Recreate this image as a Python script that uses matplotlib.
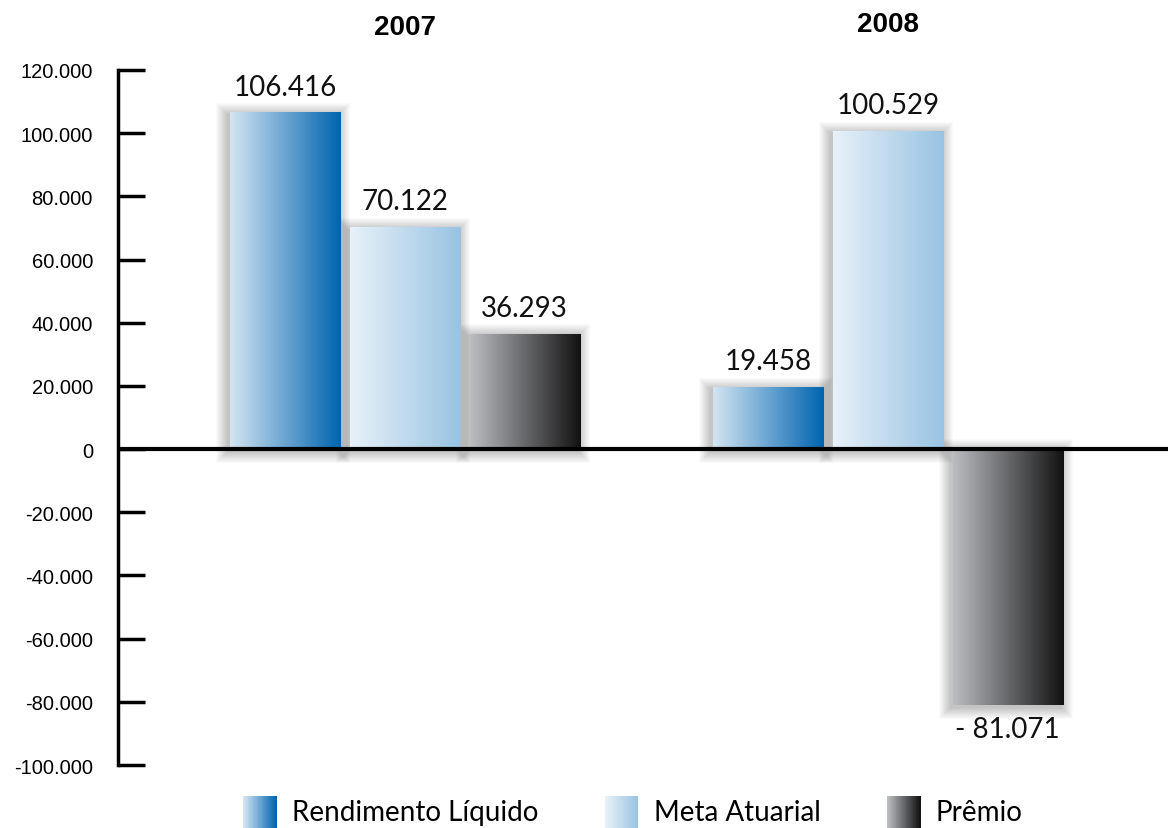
import matplotlib
matplotlib.use('Agg')
import matplotlib.pyplot as plt
import numpy as np
from matplotlib.colors import LinearSegmentedColormap
from matplotlib.patches import Rectangle
from matplotlib.legend_handler import HandlerBase
from matplotlib.ticker import FuncFormatter, MultipleLocator
from matplotlib.transforms import blended_transform_factory

# data
years = ['2007', '2008']
series = ['Rendimento Líquido', 'Meta Atuarial', 'Prêmio']
rendimento = [106416, 19458]
meta = [70122, 100529]
premio = [36293, -81071]

# left -> right gradient of each series
gradients = [('#d3e5f2', '#0064b0'), ('#e8f1f8', '#98c3e2'), ('#bcbdc1', '#121212')]


def fmt(v):
    s = f'{abs(v):,.0f}'.replace(',', '.')
    return s if v >= 0 else '- ' + s


class GradientHandler(HandlerBase):
    def __init__(self, cmap):
        super().__init__()
        self.cmap = cmap

    def create_artists(self, legend, orig_handle, xdescent, ydescent,
                       width, height, fontsize, trans):
        n = 40
        out = []
        for j in range(n):
            out.append(Rectangle((-xdescent + j * width / n, -ydescent - 0.2 * height),
                                 width / n * 1.1, height * 1.25,
                                 facecolor=self.cmap(j / (n - 1)), lw=0,
                                 transform=trans))
        return out


fig = plt.figure(figsize=(11.68, 8.29), dpi=100)
ax = fig.add_axes([118 / 1168, 63 / 829, 1 - 118 / 1168, 695 / 829])

x = np.arange(len(years))
width = 0.228
step = 0.248
px_x = 1 / 483
px_y = 220000 / 695

handles = []
hmap = {}
for i, (vals, (c0, c1)) in enumerate(zip([rendimento, meta, premio], gradients)):
    cmap = LinearSegmentedColormap.from_list(series[i], [c0, c1])
    bars = ax.bar(x + (i - 1) * step, vals, width, color='none', lw=0, zorder=3)
    for b, v in zip(bars, vals):
        xl, w = b.get_x(), b.get_width()
        ylo = min(b.get_y(), b.get_y() + b.get_height())
        yhi = max(b.get_y(), b.get_y() + b.get_height())
        # soft shadow
        for k in range(1, 13):
            ax.add_patch(Rectangle((xl - (k + 2) * px_x, ylo - (k + 2) * px_y),
                                   w + 2 * k * px_x, (yhi - ylo) + 2 * k * px_y,
                                   facecolor='black', alpha=0.018, lw=0, zorder=2))
        ax.imshow(np.linspace(0, 1, 256).reshape(1, -1), cmap=cmap,
                  extent=(xl, xl + w, ylo, yhi), aspect='auto',
                  interpolation='bicubic', zorder=3)
        if v >= 0:
            ax.annotate(fmt(v), (xl + w / 2, v), xytext=(0, 9.5),
                        textcoords='offset points', ha='center', va='bottom',
                        fontfamily='Lato', fontsize=20, color='#111111', zorder=6)
        else:
            ax.annotate(fmt(v), (xl + w / 2, v), xytext=(0, -8),
                        textcoords='offset points', ha='center', va='top',
                        fontfamily='Lato', fontsize=20, color='#111111', zorder=6)
    h = Rectangle((0, 0), 1, 1)
    handles.append(h)
    hmap[h] = GradientHandler(cmap)

ax.set_xlim(-0.594, 1.580)
ax.set_ylim(-100000, 120000)

ax.axhline(0, color='black', lw=3, zorder=5)
for s in ['top', 'right', 'bottom']:
    ax.spines[s].set_visible(False)
ax.spines['left'].set_linewidth(2.5)
ax.set_xticks([])
ax.yaxis.set_major_locator(MultipleLocator(20000))
ax.yaxis.set_major_formatter(FuncFormatter(lambda v, p: f'{v:,.0f}'.replace(',', '.')))
ax.tick_params(axis='y', direction='in', length=19.5, width=2.5, pad=18, labelsize=14.5)
for lab in ax.get_yticklabels():
    lab.set_fontfamily('Liberation Sans')

# year titles
tr = blended_transform_factory(ax.transData, fig.transFigure)
ax.text(0, 1 - 28 / 829, years[0], transform=tr, ha='center', va='center',
        fontfamily='Liberation Sans', fontweight='bold', fontsize=20)
ax.text(1, 1 - 25 / 829, years[1], transform=tr, ha='center', va='center',
        fontfamily='Liberation Sans', fontweight='bold', fontsize=20)

leg = fig.legend(handles, series, handler_map=hmap, loc='lower center',
                 bbox_to_anchor=(0.542, 0.004), ncol=3, frameon=False,
                 prop={'family': 'Lato', 'size': 20}, handlelength=1.2,
                 handleheight=1.0, handletextpad=0.55, columnspacing=2.4,
                 borderpad=0, borderaxespad=0)

fig.savefig('out.png', dpi=100)
